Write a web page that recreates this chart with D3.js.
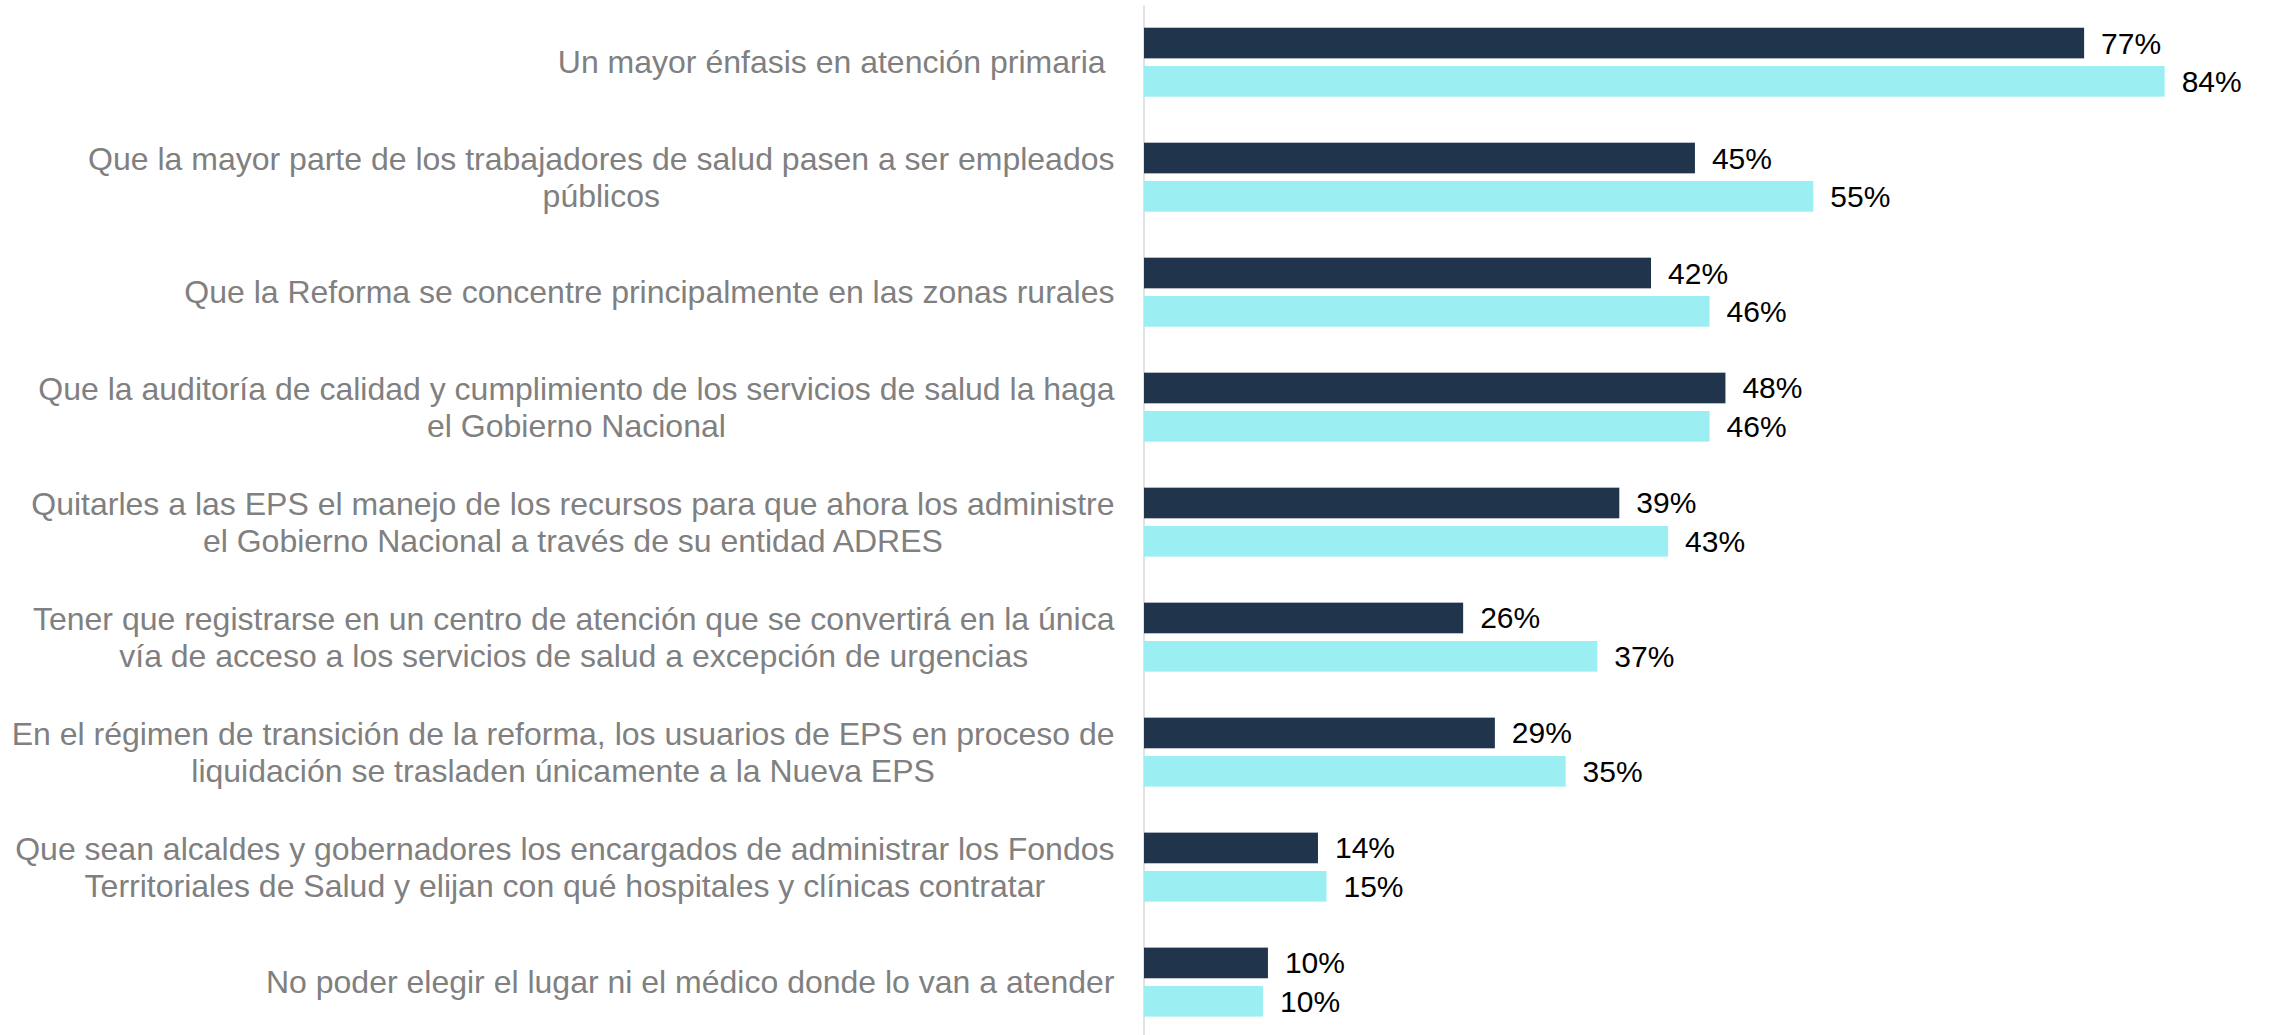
<!DOCTYPE html>
<html>
<head>
<meta charset="utf-8">
<script src="https://cdn.jsdelivr.net/npm/d3@7"></script>
<style>
  body { margin: 0; background: #fff; }
  svg { display: block; font-family: "Liberation Sans", Arial, sans-serif; }
  .cat { fill: #808080; font-size: 32px; white-space: pre; }
  .val { fill: #000; font-size: 30px; }
</style>
</head>
<body>
<svg id="chart"></svg>
<script>
// categories (line breaks as in the original)
const categories = [
  "Un mayor énfasis en atención primaria ",
  "Que la mayor parte de los trabajadores de salud pasen a ser empleados\npúblicos",
  "Que la Reforma se concentre principalmente en las zonas rurales",
  "Que la auditoría de calidad y cumplimiento de los servicios de salud la haga\nel Gobierno Nacional",
  "Quitarles a las EPS el manejo de los recursos para que ahora los administre\nel Gobierno Nacional a través de su entidad ADRES",
  "Tener que registrarse en un centro de atención que se convertirá en la única\nvía de acceso a los servicios de salud a excepción de urgencias",
  "En el régimen de transición de la reforma, los usuarios de EPS en proceso de\nliquidación se trasladen únicamente a la Nueva EPS",
  "Que sean alcaldes y gobernadores los encargados de administrar los Fondos\nTerritoriales de Salud y elijan con qué hospitales y clínicas contratar",
  "No poder elegir el lugar ni el médico donde lo van a atender"
];

// series values (%)
const series1 = [77.1, 45.2, 41.6, 47.7, 39.0, 26.2, 28.8, 14.3, 10.2];
const series2 = [83.7, 54.9, 46.4, 46.4, 43.0, 37.2, 34.6, 15.0, 9.8];

const seriesNames = ["s1", "s2"];
const colors = { s1: "#20344b", s2: "#9befF2" };

const width = 2269, height = 1035;
const svg = d3.select("#chart").attr("width", width).attr("height", height);

const x = d3.scaleLinear().domain([0, 100]).range([1143.5, 2363.5]);
const y = d3.scaleBand().domain(categories).range([4.7, 1039.6]).padding(0);
const ySub = d3.scaleBand().domain(seriesNames)
  .range([0, y.bandwidth()]).paddingInner(0.2).paddingOuter(0.6);

const rows = categories.map((c, i) => ({ cat: c, s1: series1[i], s2: series2[i] }));

// axis line
svg.append("g")
  .attr("transform", `translate(${x(0)},0)`)
  .call(d3.axisLeft(y).tickValues([]).tickSizeOuter(0))
  .call(g => g.select(".domain").attr("stroke", "#d9d9d9").attr("stroke-width", 1.5));

// bars
const grp = svg.append("g").selectAll("g")
  .data(rows).join("g")
  .attr("transform", d => `translate(0,${y(d.cat)})`);

grp.selectAll("rect")
  .data(d => seriesNames.map(k => ({ k, v: d[k] })))
  .join("rect")
  .attr("x", x(0) + 0.5)
  .attr("y", d => ySub(d.k))
  .attr("width", d => x(d.v) - x(0) - 0.5)
  .attr("height", ySub.bandwidth())
  .attr("fill", d => colors[d.k]);

grp.selectAll("text.val")
  .data(d => seriesNames.map(k => ({ k, v: d[k] })))
  .join("text")
  .attr("class", "val")
  .attr("x", d => x(d.v) + 17)
  .attr("y", d => ySub(d.k) + ySub.bandwidth() / 2)
  .attr("dy", "0.35em")
  .text(d => Math.round(d.v) + "%");

// category labels: block right-aligned, lines centred to each other
const lineH = 37.6;
const labelRight = 1114.5;
svg.append("g").selectAll("g")
  .data(categories).join("g")
  .each(function(c) {
    const lines = c.split("\n");
    const g = d3.select(this);
    const cy = y(c) + y.bandwidth() / 2;
    const t = g.selectAll("text").data(lines).join("text")
      .attr("class", "cat")
      .attr("text-anchor", "middle")
      .attr("y", (d, i) => cy + (i - (lines.length - 1) / 2) * lineH)
      .attr("dy", "0.35em")
      .text(d => d);
    let maxW = 0;
    t.each(function() { maxW = Math.max(maxW, this.getComputedTextLength()); });
    t.attr("x", labelRight - maxW / 2);
  });
</script>
</body>
</html>
